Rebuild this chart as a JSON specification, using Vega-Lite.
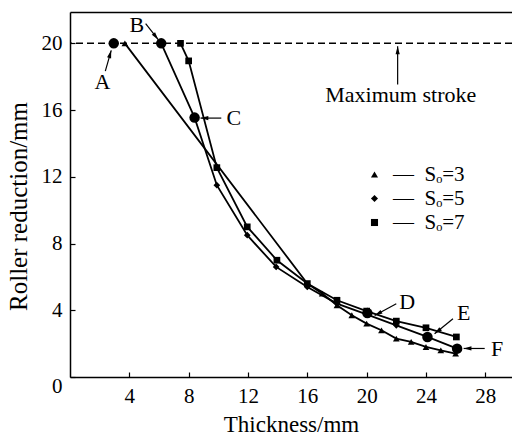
{
  "$schema": "https://vega.github.io/schema/vega-lite/v6.json",
  "width": 442,
  "height": 365,
  "autosize": "none",
  "padding": {"left": 70, "top": 12, "right": 0, "bottom": 58},
  "background": "white",
  "config": {
    "view": {"stroke": null},
    "font": "Liberation Serif",
    "axis": {
      "labelFont": "Liberation Serif",
      "labelFontSize": 21,
      "labelColor": "black",
      "titleFont": "Liberation Serif",
      "titleColor": "black",
      "titleFontWeight": "normal",
      "domainColor": "black",
      "domainWidth": 1.5,
      "tickColor": "black",
      "tickWidth": 1.2,
      "tickSize": -5,
      "labelPadding": 13,
      "grid": false
    }
  },
  "datasets": {
    "series": [
      {"s": "3", "x": 3.7, "y": 20},
      {"s": "3", "x": 16, "y": 5.6},
      {"s": "3", "x": 17, "y": 5.0},
      {"s": "3", "x": 18, "y": 4.3},
      {"s": "3", "x": 19, "y": 3.7},
      {"s": "3", "x": 20, "y": 3.2},
      {"s": "3", "x": 21, "y": 2.8},
      {"s": "3", "x": 22, "y": 2.3},
      {"s": "3", "x": 23, "y": 2.1},
      {"s": "3", "x": 24, "y": 1.8},
      {"s": "3", "x": 25, "y": 1.6},
      {"s": "3", "x": 26, "y": 1.4},
      {"s": "5", "x": 6.15, "y": 20},
      {"s": "5", "x": 8.4, "y": 15.55},
      {"s": "5", "x": 9.9, "y": 11.5},
      {"s": "5", "x": 11.95, "y": 8.5},
      {"s": "5", "x": 13.9, "y": 6.6},
      {"s": "5", "x": 16, "y": 5.4},
      {"s": "5", "x": 18, "y": 4.4},
      {"s": "5", "x": 20, "y": 3.75},
      {"s": "5", "x": 22, "y": 3.1},
      {"s": "5", "x": 24.1, "y": 2.4},
      {"s": "5", "x": 26.1, "y": 1.7},
      {"s": "7", "x": 7.45, "y": 20},
      {"s": "7", "x": 8.0, "y": 18.95},
      {"s": "7", "x": 9.9, "y": 12.55},
      {"s": "7", "x": 11.95, "y": 9.0},
      {"s": "7", "x": 13.95, "y": 7.0},
      {"s": "7", "x": 16, "y": 5.6},
      {"s": "7", "x": 18, "y": 4.6},
      {"s": "7", "x": 20, "y": 3.95},
      {"s": "7", "x": 22, "y": 3.35},
      {"s": "7", "x": 24, "y": 2.95},
      {"s": "7", "x": 26.05, "y": 2.4}
    ],
    "marked": [
      {"p": "A", "x": 2.95, "y": 20},
      {"p": "B", "x": 6.15, "y": 20},
      {"p": "C", "x": 8.4, "y": 15.55},
      {"p": "D", "x": 20.05, "y": 3.83},
      {"p": "E", "x": 24.1, "y": 2.4},
      {"p": "F", "x": 26.1, "y": 1.7}
    ],
    "notes": [
      {"label": "A", "x": 2.18, "y": 17.68, "ax": 2.38, "ay": 18.34, "hx": 2.78, "hy": 19.58},
      {"label": "B", "x": 4.51, "y": 21.1, "ax": 5.1, "ay": 21.18, "hx": 5.95, "hy": 20.22},
      {"label": "C", "x": 11.05, "y": 15.5, "ax": 10.2, "ay": 15.52, "hx": 8.8, "hy": 15.52},
      {"label": "D", "x": 22.73, "y": 4.47, "ax": 22.0, "ay": 4.39, "hx": 20.54, "hy": 3.69},
      {"label": "E", "x": 26.54, "y": 3.85, "ax": 25.82, "ay": 3.49, "hx": 24.58, "hy": 2.59},
      {"label": "F", "x": 28.8, "y": 1.69, "ax": 27.96, "ay": 1.71, "hx": 26.54, "hy": 1.71},
      {"label": "Maximum stroke", "x": 22.3, "y": 16.88, "ax": 22.09, "ay": 17.54, "hx": 22.09, "hy": 19.82}
    ]
  },
  "resolve": {"axis": {"x": "independent", "y": "independent"}},
  "layer": [
    {
      "data": {"values": [{"y": 20}]},
      "mark": {"type": "rule", "color": "black", "strokeWidth": 1.5, "strokeDash": [7, 4]},
      "encoding": {
        "y": {"field": "y", "type": "quantitative", "axis": null}
      }
    },
    {
      "data": {"name": "series"},
      "mark": {"type": "line", "color": "black", "strokeWidth": 1.8},
      "encoding": {
        "x": {
          "field": "x", "type": "quantitative",
          "scale": {"domain": [0, 29.8], "nice": false, "zero": false},
          "axis": {"values": [4, 8, 12, 16, 20, 24, 28], "title": "Thickness/mm", "titleFontSize": 23, "titleY": 54, "titleBaseline": "alphabetic"}
        },
        "y": {
          "field": "y", "type": "quantitative",
          "scale": {"domain": [0, 21.88], "nice": false},
          "axis": {
            "values": [0, 4, 8, 12, 16, 20],
            "title": "Roller reduction/mm",
            "titleFontSize": 25,
            "titleAngle": 270,
            "titleAlign": "center",
            "titleBaseline": "middle",
            "titleX": -52,
            "titleY": 194,
            "labelOffset": {"condition": {"test": "datum.value === 0", "value": 9}, "value": 0}
          }
        },
        "detail": {"field": "s", "type": "nominal"}
      }
    },
    {
      "data": {"name": "series"},
      "mark": {"type": "point", "filled": true, "color": "black", "opacity": 1, "size": 45},
      "encoding": {
        "x": {"field": "x", "type": "quantitative", "axis": null},
        "y": {"field": "y", "type": "quantitative", "axis": null},
        "shape": {
          "field": "s", "type": "nominal",
          "scale": {"domain": ["3", "5", "7"], "range": ["triangle-up", "diamond", "square"]},
          "legend": {
            "orient": "none",
            "legendX": 294,
            "legendY": 152,
            "title": null,
            "padding": 0,
            "symbolSize": 50,
            "symbolFillColor": "black",
            "symbolStrokeColor": "black",
            "symbolOpacity": 1,
            "labelFont": "Liberation Serif",
            "labelFontSize": 21,
            "labelColor": "black",
            "labelOffset": 8,
            "rowPadding": 2,
            "labelExpr": "'—\u00a0\u00a0Sₒ=' + datum.label"
          }
        }
      }
    },
    {
      "data": {"name": "marked"},
      "mark": {"type": "circle", "color": "black", "opacity": 1, "size": 110},
      "encoding": {
        "x": {
          "field": "x", "type": "quantitative",
          "axis": {"orient": "top", "labels": false, "ticks": false, "grid": false, "title": null, "domainColor": "black", "domainWidth": 1.5}
        },
        "y": {"field": "y", "type": "quantitative", "axis": null}
      }
    },
    {
      "data": {"name": "notes"},
      "mark": {"type": "rule", "color": "black", "strokeWidth": 1.2},
      "encoding": {
        "x": {"field": "ax", "type": "quantitative", "axis": null},
        "y": {"field": "ay", "type": "quantitative", "axis": null},
        "x2": {"field": "hx"},
        "y2": {"field": "hy"}
      }
    },
    {
      "data": {"name": "notes"},
      "transform": [
        {"calculate": "atan2((datum.hx - datum.ax) * 14.83, (datum.hy - datum.ay) * 16.675) * 180 / PI", "as": "ang"}
      ],
      "mark": {"type": "point", "shape": "M0,0L0.7,2.6L-0.7,2.6Z", "filled": true, "color": "black", "opacity": 1, "size": 36},
      "encoding": {
        "x": {"field": "hx", "type": "quantitative", "axis": null},
        "y": {"field": "hy", "type": "quantitative", "axis": null},
        "angle": {"field": "ang", "type": "quantitative", "scale": null}
      }
    },
    {
      "data": {"name": "notes"},
      "mark": {"type": "text", "font": "Liberation Serif", "fontSize": 22, "color": "black", "align": "center", "baseline": "middle"},
      "encoding": {
        "x": {"field": "x", "type": "quantitative", "axis": null},
        "y": {"field": "y", "type": "quantitative", "axis": null},
        "text": {"field": "label"}
      }
    }
  ]
}
